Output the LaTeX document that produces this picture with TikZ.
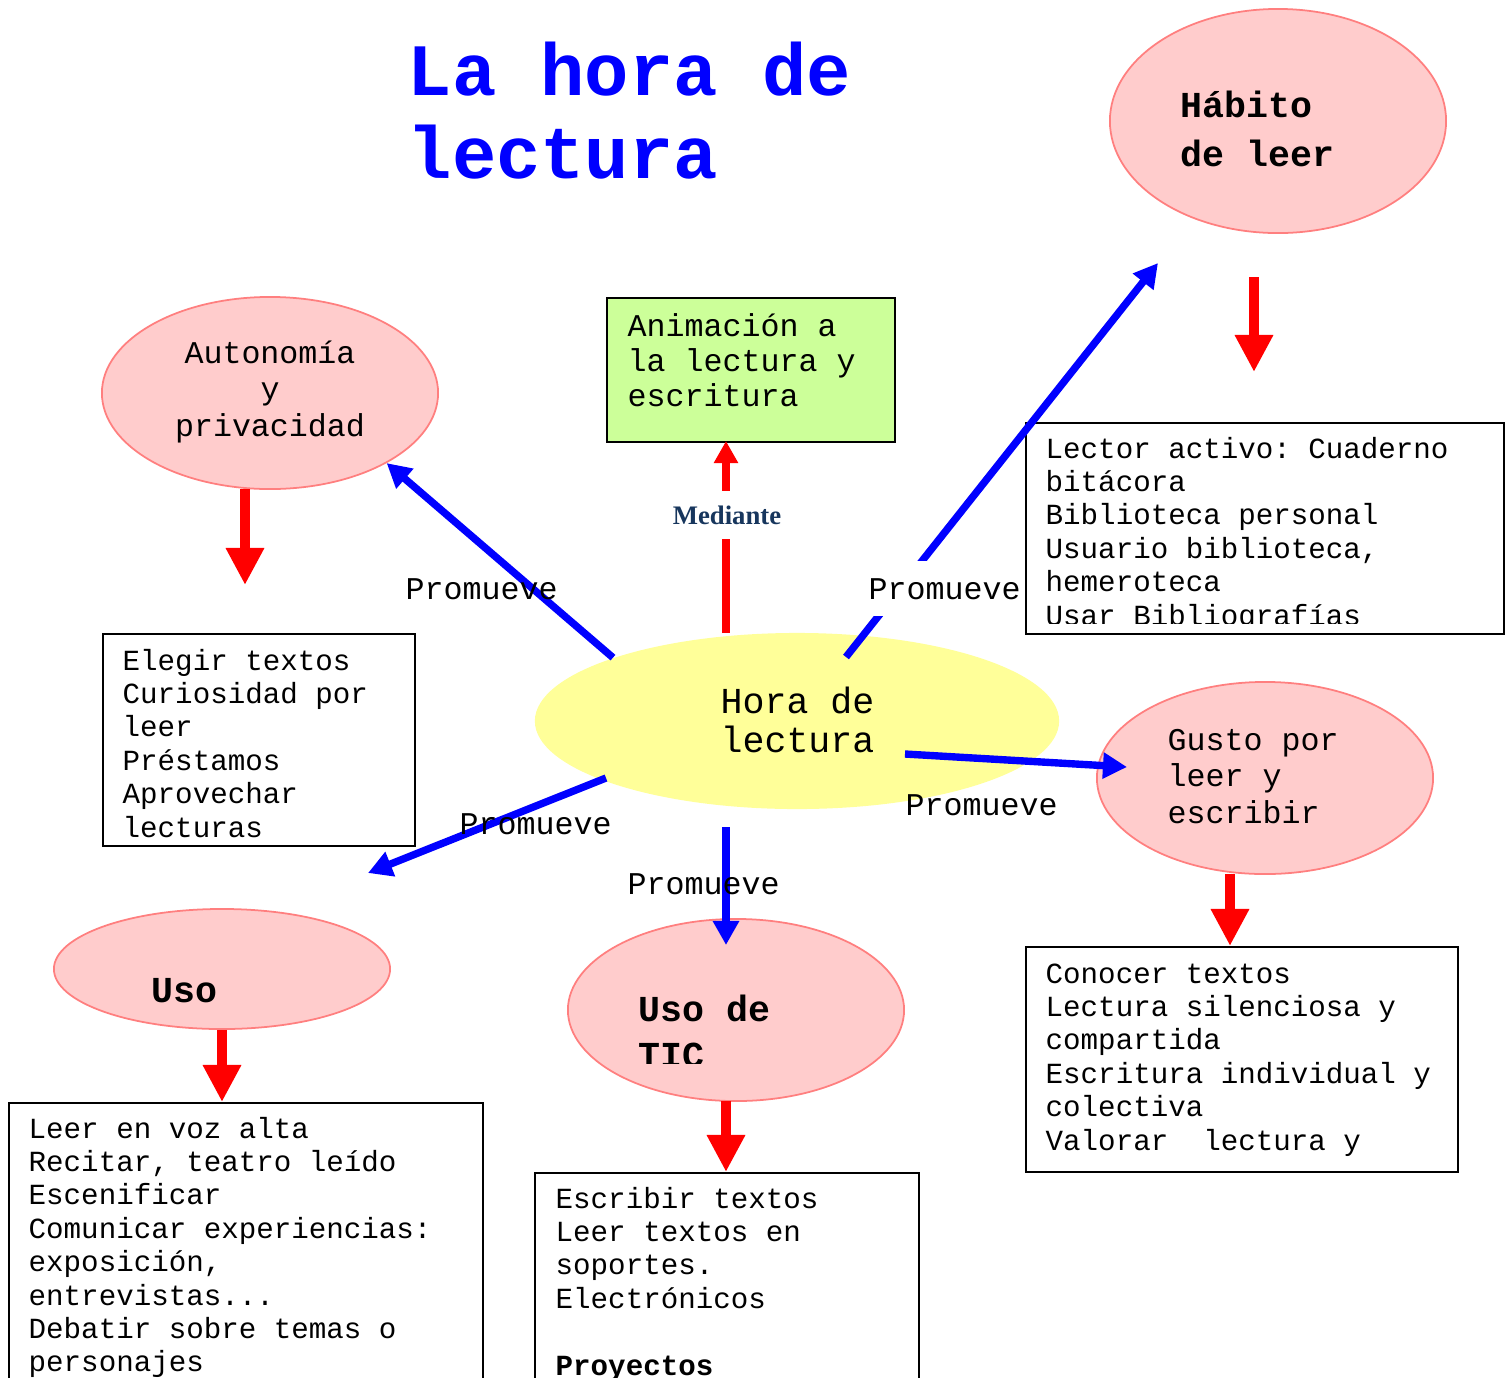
\documentclass[tikz,border=0pt]{standalone}
\usepackage{fontspec}
\usepackage{tikz}
\usetikzlibrary{shapes.geometric,arrows.meta}
\newfontfamily\courfont{Liberation Mono}
\newfontfamily\romfont{Liberation Serif}
\definecolor{rosa}{HTML}{FFCCCC}
\definecolor{rosaborde}{HTML}{FF7F7F}
\definecolor{amarillo}{HTML}{FFFF99}
\definecolor{verde}{HTML}{CCFF99}
\definecolor{azulosc}{HTML}{17365D}
\tikzstyle{idea}=[draw=rosaborde,fill=rosa,ellipse,line width=0.5pt,minimum width=3.36cm]
\tikzstyle{caja}=[draw,rectangle,line width=0.6pt,anchor=north west,inner sep=0pt]
\tikzstyle{mono}=[anchor=base west,inner sep=0pt,text width=6cm,align=left,
                  execute at begin node={\spaceskip=0.6em\xspaceskip=0.6em\relax}]
\tikzstyle{texto}=[mono,font=\courfont\fontsize{8.3}{9.5}\selectfont]
\tikzstyle{rotulo}=[mono,font=\courfont\fontsize{9}{10.4}\selectfont]
\tikzstyle{negrita}=[mono,font=\courfont\bfseries\fontsize{10.4}{14.2}\selectfont]
\tikzstyle{azul}=[draw=blue,line width=2.1pt,-{Triangle[width=0.25cm,length=0.24cm]}]
\tikzstyle{roja}=[draw=red,line width=2.8pt,-{Triangle[width=0.36cm,length=0.37cm]}]

\begin{document}
\begin{tikzpicture}[x=0.01cm,y=-0.01cm]
  \useasboundingbox (0,0) rectangle (1505,1378);
  \clip (0,0) rectangle (1505,1378);
  % titulo
  \node[mono,text width=8cm,text=blue,
        font=\courfont\bfseries\fontsize{21}{23.6}\selectfont] (titulo) at (407,95) {La hora de\\lectura};
  % elipses
  \node[ellipse,fill=amarillo,minimum width=5.24cm,minimum height=1.76cm] (hora) at (797,721) {};
  \node[idea,minimum height=2.24cm] (habito) at (1278,121) {};
  \node[idea,minimum height=1.92cm] (auto) at (270,393) {};
  \node[idea,minimum height=1.92cm] (gusto) at (1265,778) {};
  \node[idea,minimum height=1.20cm] (uso) at (222,969) {};
  \node[idea,minimum height=1.82cm] (tic) at (736,1010) {};
  % cajas
  \node[caja,fill=verde,minimum width=2.88cm,minimum height=1.44cm] (anima) at (606,297) {};
  \node[caja,minimum width=4.78cm,minimum height=2.11cm] (lector) at (1025,422) {};
  \node[caja,minimum width=3.12cm,minimum height=2.12cm] (elegir) at (102,633) {};
  \node[caja,minimum width=4.32cm,minimum height=2.25cm] (conocer) at (1025,946) {};
  \node[caja,minimum width=4.74cm,minimum height=3.00cm] (leer) at (8,1102) {};
  \node[caja,minimum width=3.84cm,minimum height=3.00cm] (escribir) at (534,1172) {};
  % textos
  \node[rotulo,font=\courfont\fontsize{10.4}{11.1}\selectfont] (t_hora) at (720,713) {Hora de\\lectura};
  \node[negrita] (t_habito) at (1180,117) {Hábito\\de leer};
  \node[rotulo,text width=3.36cm,align=center,anchor=base] (t_auto) at (270,363) {Autonomía\\y\\privacidad};
  \node[rotulo] (t_gusto) at (1167,750) {Gusto por\\leer y\\escribir};
  \node[negrita] (t_uso) at (151,1002) {Uso};
  \begin{scope}
    \clip (560,960) rectangle (910,1063);
    \node[negrita,font=\courfont\bfseries\fontsize{10.4}{13.2}\selectfont] (t_tic) at (638,1021) {Uso de\\TIC};
  \end{scope}
  \node[rotulo,font=\courfont\fontsize{9}{10}\selectfont] (t_anima) at (627,336) {Animación a\\la lectura y\\escritura};
  \begin{scope}
    \clip (1025,422) rectangle (1505,623);
    \node[texto] (t_lector) at (1045,458) {Lector activo: Cuaderno\\bitácora\\Biblioteca personal\\Usuario biblioteca,\\hemeroteca\\Usar Bibliografías};
  \end{scope}
  \node[texto] (t_elegir) at (122,670) {Elegir textos\\Curiosidad por\\leer\\Préstamos\\Aprovechar\\lecturas};
  \node[texto] (t_conocer) at (1045,983) {Conocer textos\\Lectura silenciosa y\\compartida\\Escritura individual y\\colectiva\\Valorar\ \ lectura y};
  \node[texto] (t_leer) at (28,1138) {Leer en voz alta\\Recitar, teatro leído\\Escenificar\\Comunicar experiencias:\\exposición,\\entrevistas...\\Debatir sobre temas o\\personajes};
  \node[texto] (t_escribir) at (555,1208) {Escribir textos\\Leer textos en\\soportes.\\Electrónicos\\[9.5pt]\textbf{Proyectos}};
  % puntos de las flechas
  \coordinate (b2s) at (846,657);
  \coordinate (b2e) at (1158,263);
  \coordinate (b3s) at (905,754);
  \coordinate (b3e) at (1127,767);
  \coordinate (b4s) at (606,778);
  \coordinate (b4e) at (368,873);
  \coordinate (b5s) at (726,827);
  \coordinate (b5e) at (726,945);
  \coordinate (r0s) at (726,633);
  \coordinate (r0e) at (726,441);
  \coordinate (r1s) at (245,489);
  \coordinate (r1e) at (245,585);
  \coordinate (r2s) at (1254,277);
  \coordinate (r2e) at (1254,372);
  \coordinate (r3s) at (1230,874);
  \coordinate (r3e) at (1230,946);
  \coordinate (r5s) at (726,1101);
  \coordinate (r5e) at (726,1172);
  % flechas azules
  \draw[azul] (hora.161.5) -- (auto.-31.6);
  \draw[azul] (b2s) -- (b2e);
  \draw[azul] (b3s) -- (b3e);
  \draw[azul] (b4s) -- (b4e);
  \draw[azul] (b5s) -- (b5e);
  % flechas rojas
  \draw[roja,line width=2.3pt,-{Triangle[width=0.23cm,length=0.22cm]}] (r0s) -- (r0e);
  \draw[roja] (r1s) -- (r1e);
  \draw[roja] (r2s) -- (r2e);
  \draw[roja] (r3s) -- (r3e);
  \draw[roja] (uso.south) -- (uso.south |- leer.north);
  \draw[roja] (r5s) -- (r5e);
  % etiquetas
  \node[rotulo] (p1) at (405,599) {Promueve};
  \node[rotulo,fill=white,text width=,inner ysep=0.17cm,inner xsep=0pt] (p2) at (868,599) {Promueve};
  \node[rotulo] (p3) at (905,815) {Promueve};
  \node[rotulo] (p4) at (459,834) {Promueve};
  \node[rotulo] (p5) at (627,894) {Promueve};
  \node[fill=white,inner xsep=1pt,inner ysep=0.15cm,text=azulosc,
        font=\romfont\bfseries\fontsize{7.6}{9}\selectfont] (mediante) at (727,515) {Mediante};
\end{tikzpicture}
\end{document}
